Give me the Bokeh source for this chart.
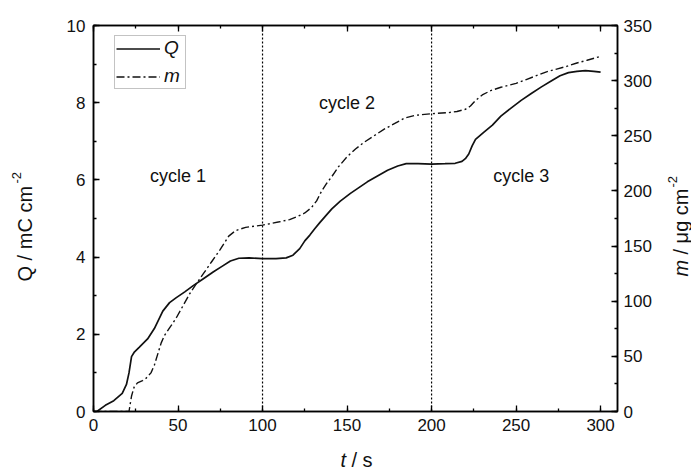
import math
from bokeh.plotting import figure
from bokeh.models import Range1d, LinearAxis, SingleIntervalTicker, Span, Label
from bokeh.embed import file_html
from bokeh.resources import INLINE

# ---------------- data ----------------
t_Q = [2, 7, 12, 17, 19.5, 21, 22.5, 24, 27, 32, 36, 41, 45, 49, 54, 59, 65, 71, 76, 81,
       86, 92, 100, 108, 114, 118, 122, 125, 128, 131, 134, 138, 141, 146, 152, 157, 162,
       168, 174, 180, 185, 192, 200, 208, 214, 218, 220, 222, 224, 226, 231, 236, 241, 247,
       253, 259, 265, 271, 276, 281, 286, 291, 296, 300]
Q = [0.0, 0.16, 0.28, 0.47, 0.70, 1.00, 1.42, 1.53, 1.66, 1.88, 2.15, 2.60, 2.82, 2.95,
     3.10, 3.26, 3.44, 3.62, 3.76, 3.90, 3.97, 3.98, 3.96, 3.96, 3.98, 4.05, 4.22, 4.42,
     4.57, 4.74, 4.90, 5.10, 5.25, 5.45, 5.65, 5.80, 5.95, 6.10, 6.25, 6.36, 6.42, 6.42,
     6.41, 6.42, 6.43, 6.48, 6.55, 6.67, 6.88, 7.05, 7.24, 7.42, 7.65, 7.86, 8.06, 8.24,
     8.41, 8.57, 8.70, 8.78, 8.81, 8.83, 8.81, 8.79]

t_m = [0, 10, 21, 22.5, 24, 26, 29, 31, 34, 36, 38, 40, 42, 46, 49, 53, 57, 60, 65, 70,
       75, 80, 84, 90, 100, 110, 116, 121, 125, 129, 132, 135, 138, 141, 145, 150, 155,
       160, 166, 172, 178, 184, 190, 200, 210, 215, 220, 223, 226, 230, 235, 241, 250, 256,
       262, 268, 274, 280, 286, 292, 300]
m = [0, 0, 0, 14, 22, 26, 28, 30, 35, 42, 52, 62, 69, 78, 85, 96, 107, 114, 125, 136,
     147, 159, 164, 167, 169, 172, 174, 177, 180, 185, 191, 200, 207, 213, 222, 231, 238,
     244, 250, 256, 261, 266, 268.5, 270, 271, 272, 274, 277, 282, 287, 291, 294, 297.5,
     301, 304.5, 308, 310.5, 313, 316, 318.5, 322]

cycle_bounds = [100, 200]
cycle_names = ["cycle 1", "cycle 2", "cycle 3"]
cycle_x = [50, 150, 253]
cycle_y = [6.1, 8.0, 6.1]

x_ticks_interval = 50
q_ticks_interval = 2
m_ticks_interval = 50

# ---------------- layout ----------------
L, R, T, B = 93, 617, 25, 411
FW, FH = R - L, B - T
XMAX, QMAX, MMAX = 310, 10, 350
FONT = "Liberation Sans"
INK = "#111111"


def dx(px):
    return (px - L) / FW * XMAX


def dy(py):
    return (B - py) / FH * QMAX


p = figure(frame_width=FW, frame_height=FH,
           min_border_left=L, min_border_right=691 - R,
           min_border_top=T, min_border_bottom=472 - B,
           x_range=Range1d(0, XMAX), y_range=Range1d(0, QMAX),
           x_axis_location=None, y_axis_location=None,
           output_backend="svg", toolbar_location=None)
p.extra_y_ranges = {"m": Range1d(0, MMAX)}
p.xgrid.visible = False
p.ygrid.visible = False
p.background_fill_color = "white"
p.border_fill_color = "white"
p.outline_line_color = "black"
p.outline_line_width = 1.5


def style(ax):
    ax.axis_line_color = "black"
    ax.axis_line_width = 1.5
    ax.major_tick_in = 6
    ax.major_tick_out = 0
    ax.minor_tick_in = 3
    ax.minor_tick_out = 0
    ax.major_tick_line_width = 1.3
    ax.minor_tick_line_width = 1.3
    ax.major_label_text_font = FONT
    ax.major_label_text_font_size = "17px"
    ax.major_label_text_color = INK
    ax.major_label_standoff = 7


bx = LinearAxis(ticker=SingleIntervalTicker(interval=x_ticks_interval, num_minor_ticks=2))
style(bx)
bx.major_label_standoff = 7
p.add_layout(bx, "below")

tx = LinearAxis(ticker=SingleIntervalTicker(interval=x_ticks_interval, num_minor_ticks=2))
style(tx)
tx.major_label_text_color = None
tx.major_label_text_font_size = "10px"
tx.major_label_standoff = 0
p.add_layout(tx, "above")

ly = LinearAxis(ticker=SingleIntervalTicker(interval=q_ticks_interval, num_minor_ticks=2))
style(ly)
ly.major_label_standoff = 8
p.add_layout(ly, "left")

ry = LinearAxis(y_range_name="m",
                ticker=SingleIntervalTicker(interval=m_ticks_interval, num_minor_ticks=2))
style(ry)
ry.major_label_standoff = 6
p.add_layout(ry, "right")

# cycle separators
for b in cycle_bounds:
    p.add_layout(Span(location=b, dimension="height", line_color="black",
                      line_width=1.2, line_dash="2 2"))

# curves
rq = p.line(t_Q, Q, line_color=INK, line_width=1.7, legend_label="Q")
rm = p.line(t_m, m, y_range_name="m", line_color=INK, line_width=1.4,
            line_dash="8 3 2 3", legend_label="m")

leg = p.legend[0]
leg.location = (21, B - 89)
leg.margin = 0
leg.padding = 1
leg.spacing = 6
leg.glyph_width = 44
leg.glyph_height = 19
leg.label_height = 19
leg.label_standoff = 4
leg.label_text_font = FONT
leg.label_text_font_style = "italic"
leg.label_text_font_size = "19px"
leg.label_text_color = INK
leg.border_line_color = "#888888"
leg.border_line_width = 1
leg.background_fill_alpha = 1

# cycle annotations
for name, cx, cy in zip(cycle_names, cycle_x, cycle_y):
    p.add_layout(Label(x=cx, y=cy, text=name, text_align="center", text_baseline="middle",
                       text_font=FONT, text_font_size="18px", text_color=INK))

# axis titles (placed in the side panels so they are not clipped to the frame)
TF = "20px"
# bottom: "t / s"
p.add_layout(Label(x=dx(340), y=dy(459), text="t", text_font=FONT, text_font_size=TF,
                   text_font_style="italic", text_align="left", text_baseline="middle",
                   text_color=INK), "below")
p.add_layout(Label(x=dx(351), y=dy(459), text="/ s", text_font=FONT, text_font_size=TF,
                   text_align="left", text_baseline="middle", text_color=INK), "below")

# left: "Q / mC cm-2"
p.add_layout(Label(x=dx(24), y=dy(281), text="Q / mC cm", angle=math.pi / 2,
                   text_font=FONT, text_font_size=TF, text_align="left",
                   text_baseline="middle", text_color=INK), "left")
p.add_layout(Label(x=dx(16), y=dy(183), text="-2", angle=math.pi / 2,
                   text_font=FONT, text_font_size="13px", text_align="left",
                   text_baseline="middle", text_color=INK), "left")

# right: "m / μg cm-2"
p.add_layout(Label(x=dx(680), y=dy(276), text="m", angle=math.pi / 2,
                   text_font=FONT, text_font_size=TF, text_font_style="italic",
                   text_align="left", text_baseline="middle", text_color=INK), "right")
p.add_layout(Label(x=dx(680), y=dy(254), text="/ μg cm", angle=math.pi / 2,
                   text_font=FONT, text_font_size=TF,
                   text_align="left", text_baseline="middle", text_color=INK), "right")
p.add_layout(Label(x=dx(672), y=dy(187), text="-2", angle=math.pi / 2,
                   text_font=FONT, text_font_size="13px", text_align="left",
                   text_baseline="middle", text_color=INK), "right")

open("out.html", "w").write(file_html(p, INLINE))
